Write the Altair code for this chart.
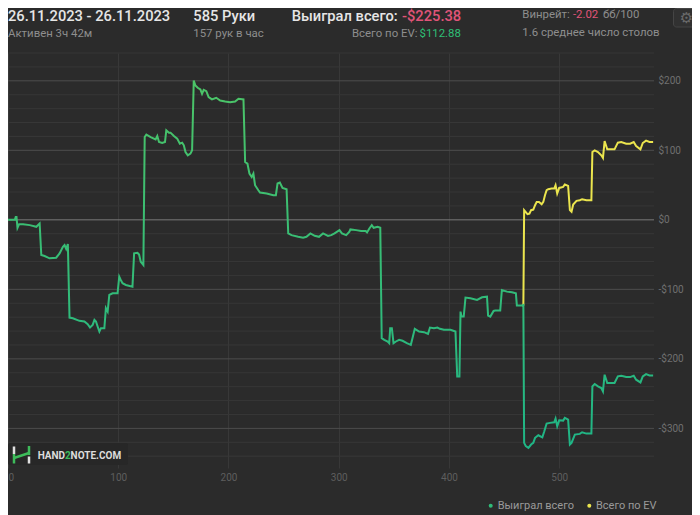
import altair as alt
import pandas as pd

# ---------------- data ----------------
hands_won = [0, 6.2, 7.0, 7.7, 8.6, 10.1, 13.7, 19.7, 25.7, 28.7, 30.2, 33.2, 37.7, 43.7, 46.8, 49.8, 51.3, 52.8, 54.3,
             55.8, 58.8, 64.8, 69.3, 72.3, 74.4, 76.8, 78.4, 79.8, 81.3, 82.9, 84.3, 87.4, 88.8, 90.4, 91.9, 94.9, 99.4,
             100.9, 102.3, 103.9, 106.9, 112.9, 114.4, 117.4, 118.9, 120.4, 122.8, 124.0, 125.5, 129.4, 133.9, 135.4,
             137.0, 139.9, 142.4, 143.6, 146.0, 147.4, 150.5, 153.5, 155.9, 158.0, 159.5, 161.0, 163.1, 165.5, 167.0,
             168.5, 170.0, 172.1, 174.5, 176.0, 177.5, 179.9, 182.0, 185.0, 188.9, 192.5, 197.0, 201.5, 206.0, 209.1,
             213.6, 215.1, 217.2, 219.0, 221.1, 222.6, 224.1, 227.1, 228.6, 234.6, 240.7, 243.0, 244.5, 246.6, 249.0,
             252.7, 254.2, 257.2, 263.2, 267.7, 270.7, 274.3, 278.2, 282.1, 285.8, 290.3, 293.2, 296.2, 300.7, 302.9,
             306.8, 309.7, 310.6, 315.8, 320.3, 324.5, 325.7, 327.8, 330.0, 331.7, 335.3, 337.7, 339.0, 341.3, 344.4,
             345.8, 346.7, 348.2, 349.7, 351.9, 354.8, 357.9, 361.8, 365.4, 366.9, 369.0, 372.9, 377.4, 381.0, 382.8,
             386.4, 389.5, 391.8, 395.4, 401.4, 405.9, 407.5, 409.5, 410.5, 411.4, 413.4, 415.0, 419.5, 425.5, 430.0,
             434.5, 435.5, 437.5, 440.5, 442.0, 446.5, 448.0, 452.6, 457.1, 460.7, 461.6, 466.1, 467.5, 468.2, 469.7,
             472.1, 474.5, 476.5, 478.1, 481.1, 484.7, 486.5, 488.6, 491.6, 495.5, 496.7, 498.2, 500.0, 503.6, 505.1,
             508.1, 509.7, 511.2, 514.2, 518.7, 520.8, 524.7, 529.2, 530.1, 532.2, 535.2, 538.2, 539.7, 541.2, 543.6,
             550.2, 553.2, 556.3, 560.8, 564.3, 567.6, 569.8, 573.7, 575.8, 578.8, 581.9, 585.2]
won = [0, 0, 3.9, 3.9, -11.5, -6.2, -6.2, -7.6, -10.0, -5.2, -50.6, -52.1, -55.4, -54.5, -48.2, -38.7, -36.3, -42.0, -34.9,
       -140.6, -141.5, -145.3, -146.3, -150.1, -154.9, -151.1, -143.9, -146.3, -153.5, -160.7, -155.8, -155.8, -127.1,
       -132.0, -108.0, -105.6, -105.6, -81.8, -86.5, -91.2, -93.7, -96.1, -48.2, -47.3, -50.0, -60.3, -65.0, 119.1,
       122.5, 119.1, 115.8, 120.5, 111.9, 110.5, 111.9, 128.7, 125.4, 125.4, 120.5, 116.8, 109.6, 111.0, 107.2, 97.6,
       92.8, 95.3, 100.0, 200.4, 193.3, 190.0, 187.5, 181.3, 187.1, 185.1, 176.5, 173.2, 175.6, 171.7, 170.3, 169.3,
       170.3, 174.2, 173.2, 83.2, 80.9, 66.6, 61.7, 66.6, 49.8, 42.6, 39.3, 37.9, 35.4, 35.4, 52.2, 53.7, 45.9, 44.0,
       -19.5, -22.0, -24.4, -25.8, -24.4, -19.5, -23.0, -24.4, -19.5, -23.2, -22.0, -19.5, -14.8, -19.5, -22.0, -17.1,
       -13.8, -14.8, -16.2, -16.0, -18.1, -12.4, -7.6, -11.4, -10.0, -11.4, -170.2, -172.6, -175.0, -177.4, -155.8,
       -155.8, -177.4, -175.0, -172.6, -174.0, -177.4, -179.8, -170.2, -156.8, -160.7, -161.6, -164.0, -154.9, -155.8,
       -154.9, -156.8, -158.2, -158.2, -160.7, -225.2, -225.2, -132.0, -139.2, -139.2, -111.9, -112.8, -115.2, -111.4,
       -110.5, -137.7, -139.2, -131.0, -130.5, -130.5, -100.9, -103.3, -104.2, -105.6, -123.4, -123.4, -122.4, -320.8,
       -325.6, -328.0, -323.2, -320.8, -313.6, -309.9, -312.8, -304.2, -293.1, -292.1, -291.2, -285.9, -297.0, -288.4,
       -288.8, -284.9, -287.4, -323.2, -320.8, -308.9, -307.9, -305.6, -307.5, -307.5, -239.6, -236.2, -239.6, -241.9,
       -246.8, -222.8, -234.7, -234.7, -225.2, -224.3, -226.2, -226.2, -224.3, -230.0, -233.9, -225.2, -221.9, -223.8,
       -223.8]

hands_ev = [466.1, 467.5, 468.2, 469.7, 471.2, 473.0, 474.5, 476.5, 478.1, 479.6, 481.7, 484.1, 485.6, 487.1, 488.6,
            490.1, 493.1, 495.5, 496.7, 498.2, 500.0, 503.6, 505.1, 508.1, 509.7, 511.2, 512.7, 515.7, 518.7, 520.8,
            524.7, 529.2, 530.1, 532.2, 535.2, 538.2, 539.7, 541.2, 543.6, 550.2, 553.2, 556.3, 560.8, 564.3, 567.6,
            569.8, 573.7, 575.8, 578.8, 581.9, 585.2]
ev = [-123.4, -122.4, 13.9, 11.0, 8.2, 9.0, 13.9, 14.8, 21.0, 25.8, 25.8, 22.5, 25.8, 35.4, 42.6, 44.0, 45.0, 45.0,
      49.8, 37.9, 45.9, 47.4, 50.8, 48.8, 13.9, 11.5, 22.0, 27.3, 28.2, 29.7, 28.2, 28.2, 97.6, 100.0, 97.6, 92.8,
      89.0, 113.4, 101.4, 101.4, 111.0, 112.0, 109.6, 109.6, 112.0, 106.2, 101.4, 110.5, 113.9, 112.0, 112.0]

series_names = ["Выиграл всего", "Всего по EV"]
series_colors = ["#2fbb78", "#ebe54e"]

x_ticks = [0, 100, 200, 300, 400, 500]
y_major = [-300, -200, -100, 0, 100, 200]
y_minor = [-340, -320, -280, -260, -240, -220, -180, -160, -140, -120, -80, -60, -40, -20,
           20, 40, 60, 80, 120, 140, 160, 180, 220, 240]

BG = "#2b2b2b"
W, H = 646, 415

df_won = pd.DataFrame({"hand": hands_won, "value": won, "idx": range(len(won))})
df_ev = pd.DataFrame({"hand": hands_ev, "value": ev, "idx": range(len(ev))})

xs = alt.Scale(domain=[0, 586], nice=False, zero=False)
ys = alt.Scale(domain=[-357, 240], nice=False, zero=False)

y_axis = alt.Axis(orient="right", values=y_major, grid=False, domain=False, ticks=False,
                  labelColor="#707070", labelFontSize=10, labelPadding=4, title=None, labelFont="Roboto",
                  labelExpr="datum.value < 0 ? '-$' + abs(datum.value) : '$' + datum.value")

minor = alt.Chart(pd.DataFrame({"level": y_minor})).mark_rule(color="#373737", strokeWidth=1).encode(
    y=alt.Y("level:Q", scale=ys, axis=y_axis))
major = alt.Chart(pd.DataFrame({"level": y_major})).mark_rule(strokeWidth=1).encode(
    y=alt.Y("level:Q", scale=ys, axis=y_axis),
    color=alt.condition("datum.level === 0", alt.value("#7a7a7a"), alt.value("#4d4d4d")))

x_enc = alt.X("hand:Q", scale=xs, axis=alt.Axis(values=x_ticks, grid=True, gridColor="#383838", domain=False,
                                                ticks=False, labelColor="#5e5e5e", labelFontSize=10,
                                                labelPadding=4, labelFlush=True, title=None, labelFont="Roboto"))
y_enc = alt.Y("value:Q", scale=ys, axis=y_axis)

ev_line = alt.Chart(df_ev).mark_line(strokeWidth=2, color=series_colors[1]).encode(
    x=x_enc, y=y_enc, order="idx:Q")
won_line = alt.Chart(df_won).mark_line(
    strokeWidth=2,
    stroke=alt.Gradient(gradient="linear", x1=0, x2=0, y1=0, y2=1,
                        stops=[alt.GradientStop(color="#4cc467", offset=0),
                               alt.GradientStop(color="#1fb586", offset=1)])).encode(
    x=x_enc, y=y_enc, order="idx:Q")


def label(txt, x, y, size, color, weight="normal", font="Roboto", align="left", baseline="alphabetic"):
    return alt.Chart(pd.DataFrame({"t": [txt]})).mark_text(
        align=align, baseline=baseline, fontSize=size, color=color, font=font, fontWeight=weight).encode(
        x=alt.value(x), y=alt.value(y), text="t:N")


WHITE = "#e6e6e6"
GRAY = "#8e8e8e"
PINK = "#e05478"
GREEN = "#2fbf76"
BIG, SMALL = 14.7, 11.4

texts = [
    label("26.11.2023 - 26.11.2023", 0, -32.3, BIG, WHITE, 500),
    label("Активен 3ч 42м", 0, -15.7, SMALL, GRAY),
    label("585 Руки", 185.3, -32.3, BIG, WHITE, 500),
    label("157 рук в час", 185.3, -15.7, SMALL, GRAY),
    label("Выиграл всего:", 283.7, -32.3, BIG, WHITE, 500),
    label("-$225.38", 394.0, -32.3, BIG, PINK, 500),
    label("Всего по EV:", 344, -15.7, SMALL, GRAY),
    label("$112.88", 411.5, -15.7, SMALL, GREEN),
    label("Винрейт:", 514.3, -34.7, SMALL, GRAY),
    label("-2.02", 564.9, -34.7, SMALL, PINK),
    label("бб/100", 594.9, -34.7, SMALL, GRAY),
    label("1.6 среднее число столов", 514.3, -16.7, SMALL, GRAY),
]

one = pd.DataFrame({"a": [0]})
gear_box = alt.Chart(one).mark_rect(cornerRadius=3, fill="#313131", stroke="#454545", strokeWidth=1).encode(
    x=alt.value(665.5), x2=alt.value(694), y=alt.value(-44.5), y2=alt.value(-26))
gear = label("⚙", 678.5, -35, 15, "#6a6a6a", font="DejaVu Sans", align="center", baseline="middle")

logo_box = alt.Chart(one).mark_rect(cornerRadius=2, fill="#272727").encode(
    x=alt.value(0), x2=alt.value(120), y=alt.value(390), y2=alt.value(412))


def seg(x1, y1, x2, y2, color):
    return alt.Chart(one).mark_rule(color=color, strokeWidth=2.5).encode(
        x=alt.value(x1), y=alt.value(y1), x2=alt.value(x2), y2=alt.value(y2))


logo_icon = [
    seg(6, 393.5, 6, 401, "#e0e0e0"),
    seg(6, 401, 6, 410.5, "#3dbb5a"),
    seg(6, 405, 21, 400, "#3dbb5a"),
    seg(21, 393, 21, 402, "#3dbb5a"),
    seg(21, 403.5, 21, 410.5, "#e0e0e0"),
]
logo_text = [
    label("HAND", 29.7, 406.3, 10, "#dcdcdc", "bold"),
    label("2", 57.0, 406.3, 10, "#3dbb5a", "bold"),
    label("NOTE.COM", 62.6, 406.3, 10, "#dcdcdc", "bold"),
]

legend = []
leg_dot_x = [482.7, 581.3]
leg_txt_x = [489.7, 588.0]
for i, name in enumerate(series_names):
    legend.append(alt.Chart(pd.DataFrame({"s": [name]})).mark_point(
        filled=True, size=16, opacity=1, color=series_colors[i]).encode(
        x=alt.value(leg_dot_x[i]), y=alt.value(452.7)))
    legend.append(label(name, leg_txt_x[i], 452.7, 11, "#9a9a9a", baseline="middle"))

chart = alt.layer(
    minor, major, ev_line, won_line, *texts, gear_box, gear, logo_box, *logo_icon, *logo_text, *legend
).properties(
    width=W, height=H,
    autosize=alt.AutoSizeParams(type="none"),
    padding={"left": 0, "top": 45, "right": 38, "bottom": 47},
).configure(
    background=BG, font="Roboto"
).configure_view(stroke=None)

chart.save("out.html", embed_options={"renderer": "svg", "actions": False})
